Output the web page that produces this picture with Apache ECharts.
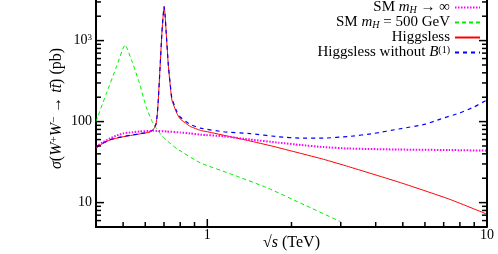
<!DOCTYPE html>
<html><head><meta charset="utf-8">
<script src="https://cdn.jsdelivr.net/npm/echarts@6/dist/echarts.min.js"></script>
<style>html,body{margin:0;padding:0;background:#fff}#c{width:498px;height:254px}</style>
</head><body><div id="c"></div>
<script>
// ---- data ----
const seriesNames = ['SM mH inf', 'SM mH 500', 'Higgsless', 'Higgsless no B1'];
const legendTexts = [
  'SM {i|m}{sub|H} → ∞',
  'SM {i|m}{sub|H} = 500 GeV',
  'Higgsless',
  'Higgsless without {i|B}{sup|(1)}'
];
const xMajorTicks = [1, 10];
const xMinorTicks = [0.5, 0.6, 0.7, 0.8, 0.9, 2, 3, 4, 5, 6, 7, 8, 9];
const yMajorTicks = [10, 100, 1000];
const yMinorTicks = [6, 7, 8, 9, 20, 30, 40, 50, 60, 70, 80, 90, 200, 300, 400, 500, 600, 700, 800, 900, 2000, 3000];

const smInf = [[0.40,49],[0.425,56],[0.449,62],[0.475,67.5],[0.50,71.5],[0.54,74],[0.575,75.5],[0.642,77],[0.717,75.5],[0.80,73.5],[0.869,71.5],[0.944,69],[1.14,66],[1.426,60],[1.8,55],[2.154,51.5],[2.6,48.5],[3.2,46.5],[4.84,45.2],[7.3,44.6],[10,43.8]];
const sm500 = [[0.40,100],[0.434,215],[0.472,461],[0.508,885],[0.541,526],[0.572,298],[0.604,153],[0.639,96],[0.684,68.5],[0.713,59.4],[0.78,46],[0.944,31],[1.239,22],[1.64,15.2],[2.15,9.9],[3.0,5.8]];
const higgsless = [[0.40,47],[0.42,53],[0.45,59.5],[0.475,62.5],[0.50,65],[0.54,68],[0.575,70.5],[0.62,74],[0.64,79],[0.655,92],[0.662,120],[0.668,185],[0.678,477],[0.688,1234],[0.695,2000],[0.701,2630],[0.707,2000],[0.713,1234],[0.726,477],[0.737,280],[0.747,185],[0.778,127],[0.80,108],[0.846,93],[0.87,87],[0.944,78],[1.0,75],[1.2,65.5],[1.41,58],[1.7,50],[2.13,41],[2.6,34.3],[3.2,27.8],[4.84,17.9],[7.3,11.1],[10,7.2]];
const higgslessNoB = [[0.40,48],[0.42,53.5],[0.45,60],[0.475,63],[0.50,65.5],[0.54,68.5],[0.575,71],[0.62,74.5],[0.64,79.5],[0.655,92],[0.662,120],[0.668,185],[0.678,477],[0.688,1234],[0.695,2000],[0.701,2630],[0.707,2000],[0.713,1250],[0.726,490],[0.737,290],[0.747,195],[0.778,133],[0.80,114],[0.846,98],[0.87,92],[0.944,83],[1.14,75],[1.426,71],[1.8,65],[2.154,62.5],[2.6,62.5],[3.2,65.5],[3.94,71.5],[4.84,81],[6.03,93],[6.84,108],[8.0,128],[9.0,152],[10,185]];

// ---- chart ----
const FONT = 'Liberation Serif';
const rich = {
  i: {fontFamily: FONT, fontStyle: 'italic', fontSize: 15, color: '#000'},
  sub: {fontFamily: FONT, fontStyle: 'italic', fontSize: 10, verticalAlign: 'bottom', lineHeight: 8, color: '#000'},
  sup: {fontFamily: FONT, fontSize: 10, verticalAlign: 'top', lineHeight: 8, color: '#000'}
};
const axisRich = {
  i: {fontFamily: FONT, fontStyle: 'italic', fontSize: 16, color: '#000'},
  sup: {fontFamily: FONT, fontSize: 11, verticalAlign: 'top', lineHeight: 8, color: '#000'},
  b: {fontFamily: FONT, fontSize: 14, color: '#000'},
  s: {fontFamily: FONT, fontSize: 9, verticalAlign: 'top', lineHeight: 8, color: '#000'}
};
const yMin = 5, yMax = 3170, xMin = 0.4, xMax = 10;

const chart = echarts.init(document.getElementById('c'), null, {renderer: 'canvas'});
const ln = (name, data, color, type, width) => ({
  name, type: 'line', data, xAxisIndex: 0, yAxisIndex: 0,
  symbol: 'none', smooth: 0.15, clip: true,
  lineStyle: {color, type, width, cap: 'butt'}, itemStyle: {color},
  emphasis: {disabled: true}
});
chart.setOption({
  animation: false,
  backgroundColor: '#fff',
  grid: {left: 96, right: 11, top: 0, bottom: 27, outerBoundsMode: 'none', containLabel: false},
  xAxis: {
    type: 'log', min: xMin, max: xMax,
    axisLine: {lineStyle: {color: '#000', width: 2}},
    axisTick: {show: false},
    splitLine: {show: false},
    axisLabel: {
      customValues: xMajorTicks, margin: 1,
      fontFamily: FONT, fontSize: 14, color: '#000',
      formatter: v => String(Math.round(v))
    },
    name: '√{i|s} (TeV)', nameLocation: 'middle', nameGap: 8, nameMoveOverlap: false,
    nameTextStyle: {fontFamily: FONT, fontSize: 16, color: '#000', rich: axisRich, verticalAlign: 'top'}
  },
  yAxis: {
    type: 'log', min: yMin, max: yMax,
    axisLine: {lineStyle: {color: '#000', width: 2}},
    axisTick: {show: false},
    splitLine: {show: false},
    axisLabel: {
      customValues: yMajorTicks, margin: 4,
      fontFamily: FONT, fontSize: 14, color: '#000',
      formatter: v => Math.round(v) === 1000 ? '{b|10}{s|3}' : '{b|' + Math.round(v) + '}',
      rich: axisRich
    },
    name: '{i|σ}({i|W}{sup|+}{i|W}{sup|−} → {i|t}{i|t̄}) (pb)',
    nameLocation: 'middle', nameGap: 31, nameRotate: 90, nameMoveOverlap: false,
    nameTextStyle: {fontFamily: FONT, fontSize: 16, color: '#000', rich: axisRich, padding: [0, 0, 0, 10]}
  },
  legend: {
    orient: 'vertical', right: 17, top: 0, align: 'right', padding: 0,
    itemWidth: 25, itemHeight: 14, itemGap: 0,
    itemStyle: {opacity: 0},
    data: seriesNames,
    formatter: name => legendTexts[seriesNames.indexOf(name)],
    textStyle: {fontFamily: FONT, fontSize: 15, color: '#000', lineHeight: 15, rich}
  },
  series: [
    ln(seriesNames[1], sm500, '#00ee00', [4, 3], 1),
    ln(seriesNames[2], higgsless, '#ff0000', 'solid', 1),
    ln(seriesNames[3], higgslessNoB, '#0000ff', [4, 4], 1.2),
    ln(seriesNames[0], smInf, '#ff00ff', [1.5, 1.5], 2)
  ]
});

// ticks (inside, mirrored on right) placed through the axes' own scales
const X = v => chart.convertToPixel({xAxisIndex: 0}, v);
const Y = v => chart.convertToPixel({yAxisIndex: 0}, v);
const xl = X(xMin), xr = X(xMax), yb = Y(yMin), yt = Y(yMax);
const seg = (x1, y1, x2, y2, w) => ({type: 'line', silent: true, z: 10,
  shape: {x1, y1, x2, y2}, style: {stroke: '#000', lineWidth: w || 1.5}});
const g = [seg(xr, yt, xr, yb, 2)];
xMajorTicks.forEach(v => { const p = X(v); g.push(seg(p, yb, p, yb - 8)); });
xMinorTicks.forEach(v => { const p = X(v); g.push(seg(p, yb, p, yb - 5)); });
yMajorTicks.forEach(v => { const p = Y(v); g.push(seg(xl, p, xl + 8, p), seg(xr, p, xr - 8, p)); });
yMinorTicks.forEach(v => { const p = Y(v); g.push(seg(xl, p, xl + 5, p), seg(xr, p, xr - 5, p)); });
chart.setOption({graphic: g});
</script></body></html>
